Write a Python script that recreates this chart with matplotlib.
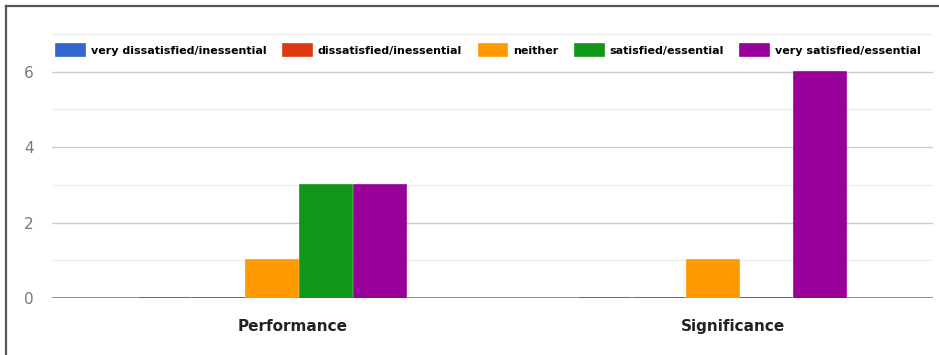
import numpy as np
import matplotlib.pyplot as plt
import matplotlib.transforms as mtransforms
from matplotlib.lines import Line2D

categories = ["Performance", "Significance"]
series = ["very dissatisfied/inessential", "dissatisfied/inessential", "neither",
          "satisfied/essential", "very satisfied/essential"]
values = [[0, 0],
          [0, 0],
          [1, 1],
          [3, 0],
          [3, 6]]
colors = ["#3366cc", "#dc3912", "#ff9900", "#109618", "#990099"]

fig = plt.figure(figsize=(9.39, 3.55), dpi=100)
ax = fig.add_axes([0.0554, 0.1606, 0.938, 0.7434])

x = np.arange(len(categories))
w = 0.122
for i, (name, vals, c) in enumerate(zip(series, values, colors)):
    ax.bar(x + (i - 2) * w, vals, w * 0.97, color=c, edgecolor=c, linewidth=1.2,
           label=name, zorder=3)

ax.set_xlim(-0.5, 1.5)
ax.set_ylim(0, 7)
ax.set_yticks([0, 2, 4, 6])
ax.set_yticks([1, 3, 5, 7], minor=True)
ax.grid(axis="y", which="major", color="#cccccc", linewidth=1)
ax.grid(axis="y", which="minor", color="#ececec", linewidth=1)
ax.axhline(0, color="#888888", linewidth=2, zorder=2)
ax.set_axisbelow(True)
for s in ax.spines.values():
    s.set_visible(False)
ax.tick_params(axis="y", which="both", length=0, pad=13, labelsize=11, labelcolor="#777777")
ax.tick_params(axis="x", length=0, pad=15)

ax.set_xticks(x)
ax.set_xticklabels(categories, fontsize=11, fontweight="bold", color="#222222")
offset = mtransforms.ScaledTranslation(0.2, 0, fig.dpi_scale_trans)
for lab in ax.get_xticklabels():
    lab.set_transform(lab.get_transform() + offset)

ax.legend(loc="center left", bbox_to_anchor=(0.0, 0.94), ncol=5, frameon=False,
          handlelength=2.6, handleheight=1.2, handletextpad=0.5, columnspacing=1.5,
          borderaxespad=0, prop={"weight": "bold", "size": 8})

fig.add_artist(Line2D([6 / 939, 6 / 939], [0, 1 - 6 / 355], color="#555555", linewidth=1.6))
fig.add_artist(Line2D([6 / 939, 1], [1 - 6 / 355, 1 - 6 / 355], color="#555555", linewidth=1.6))

fig.savefig("out.png", dpi=100)
